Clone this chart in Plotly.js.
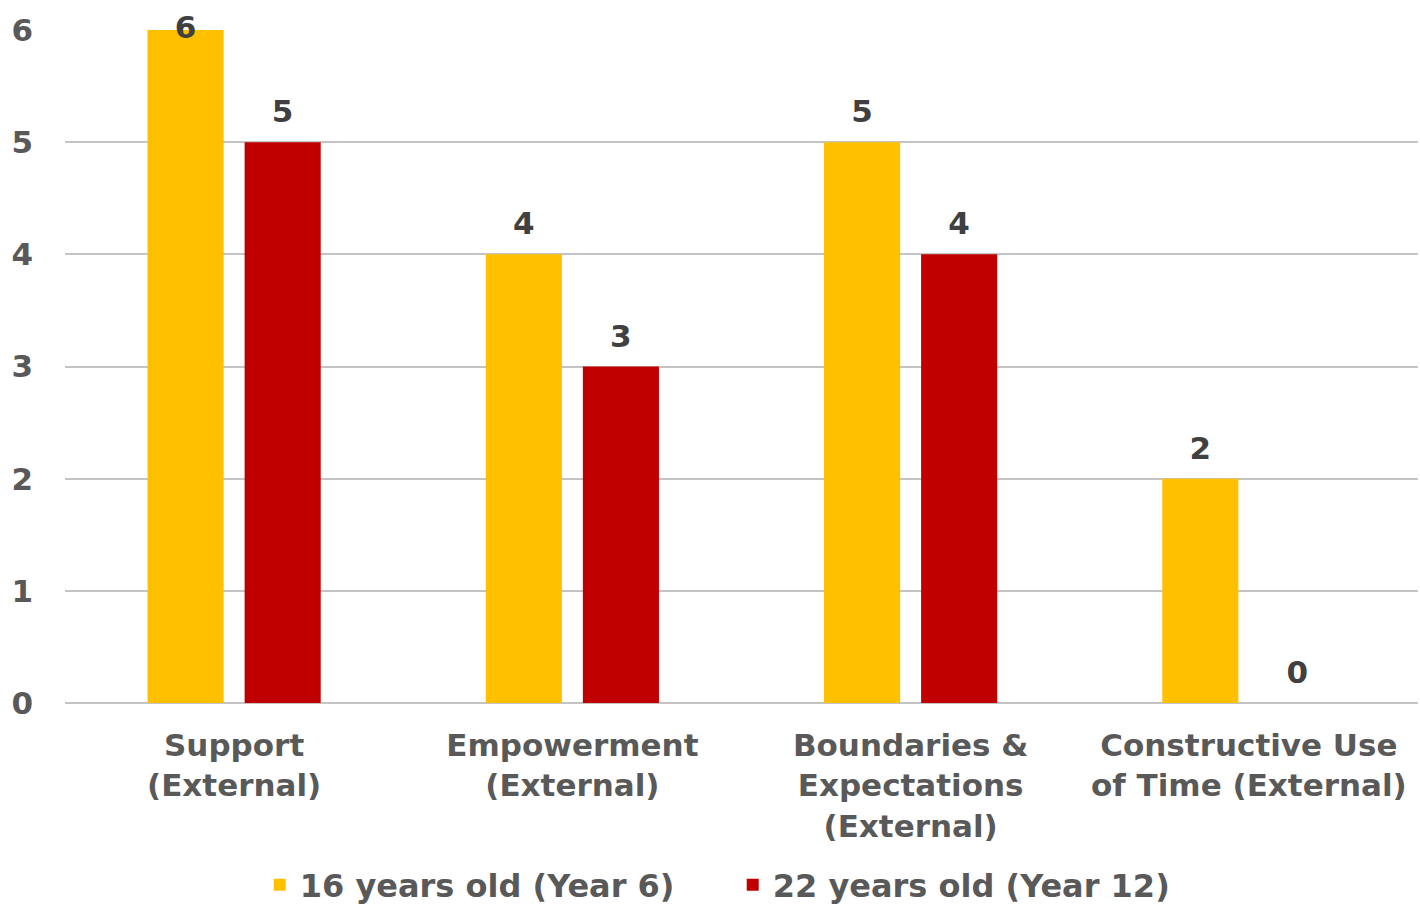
<!DOCTYPE html>
<html>
<head>
<meta charset="utf-8">
<script src="https://cdn.plot.ly/plotly-3.0.1.min.js"></script>
<style>html,body{margin:0;padding:0;background:#fff;}#chart{width:1420px;height:904px;}</style>
</head>
<body>
<div id="chart"></div>
<script>
const categories = ["Support<br>(External)", "Empowerment<br>(External)", "Boundaries &<br>Expectations<br>(External)", "Constructive Use<br>of Time (External)"];
const seriesNames = ["16 years old (Year 6)", "22 years old (Year 12)"];
const year6 = [6, 4, 5, 2];
const year12 = [5, 3, 4, 0];
const colors = ["#FFC000", "#C00000"];
const yTicks = [0, 1, 2, 3, 4, 5, 6];
const yMax = 6;

const font = "DejaVu Sans, Verdana, sans-serif";
const labelFont = {family: font, size: 31, color: "#404040", weight: "bold"};

function bar(name, vals, color, grp) {
  return {
    type: "bar", name: name, x: categories, y: vals, offsetgroup: grp, alignmentgroup: "a",
    marker: {color: color}, hoverinfo: "skip"
  };
}
function labels(vals, grp) {
  return {
    type: "scatter", mode: "markers+text", x: categories, y: vals, offsetgroup: grp, alignmentgroup: "a",
    text: vals.map(String),
    textposition: vals.map(v => v >= yMax ? "middle center" : "top center"),
    marker: {size: 18, color: "rgba(0,0,0,0)"},
    textfont: labelFont, cliponaxis: false, showlegend: false, hoverinfo: "skip"
  };
}
const data = [
  bar(seriesNames[0], year6, colors[0], "g1"),
  bar(seriesNames[1], year12, colors[1], "g2"),
  labels(year6, "g1"),
  labels(year12, "g2")
];
const layout = {
  width: 1420, height: 904,
  margin: {l: 65, r: 2, t: 30, b: 201},
  paper_bgcolor: "#ffffff", plot_bgcolor: "rgba(0,0,0,0)",
  font: {family: font, size: 31, color: "#595959", weight: "bold"},
  barmode: "group", bargap: 0.426, bargroupgap: 0.216,
  scattermode: "group", scattergap: 0.426,
  xaxis: {showgrid: false, showline: false, ticks: "", ticklabelstandoff: 21,
          tickfont: {family: font, size: 31, color: "#595959", weight: "bold"}},
  yaxis: {range: [0, 6], tickvals: yTicks, showgrid: true, gridcolor: "#C4C4C4", gridwidth: 2,
          zeroline: true, zerolinecolor: "#C4C4C4", zerolinewidth: 2, showline: false,
          ticks: "", ticklabelstandoff: 31,
          tickfont: {family: font, size: 31, color: "#595959", weight: "bold"}},
  showlegend: true,
  legend: {orientation: "h", xref: "container", x: 0.516, xanchor: "center",
           yref: "container", y: 0.021, yanchor: "middle", entrywidth: 428,
           font: {family: font, size: 32, color: "#595959", weight: "bold"}}
};
Plotly.newPlot("chart", data, layout, {displayModeBar: false, staticPlot: true});
</script>
</body>
</html>
